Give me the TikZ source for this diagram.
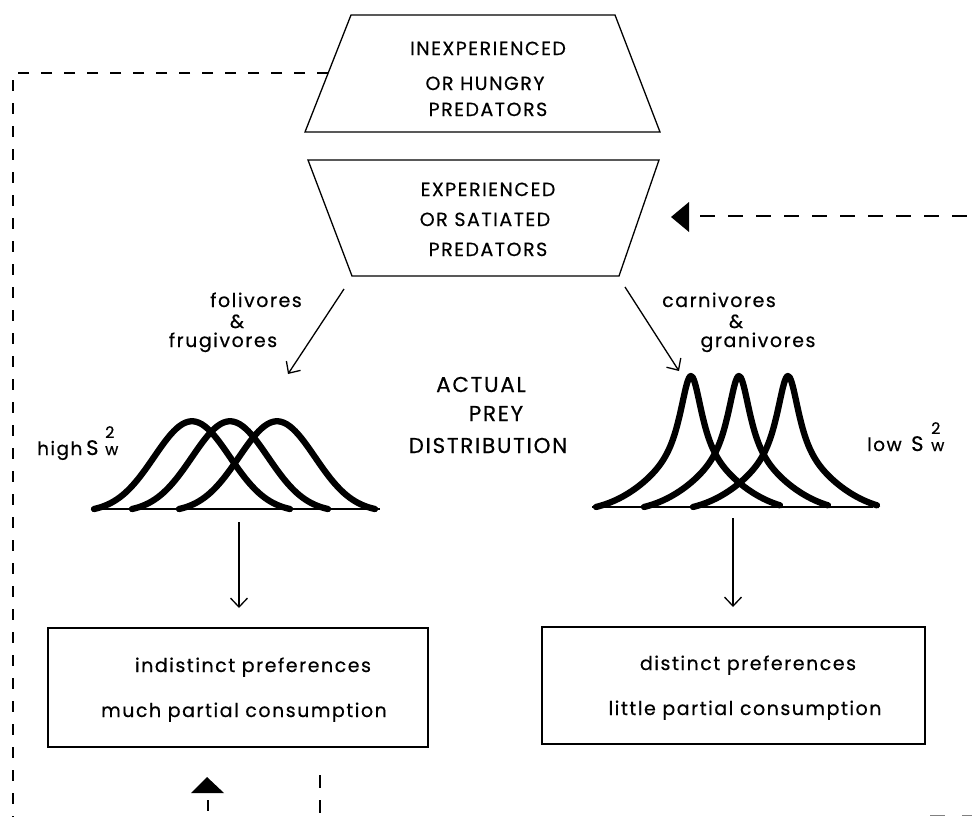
\documentclass[tikz,border=0pt]{standalone}
\usepackage{fontspec}
\setmainfont{Poppins}[LetterSpace=8,FakeBold=0.5]
\usetikzlibrary{arrows.meta}
\begin{document}
\begin{tikzpicture}[x=1pt,y=-1pt,
  thin/.style={line width=1.3pt},
  curve/.style={line width=6.3pt,line join=round,line cap=round},
  captext/.style={font=\fontsize{19}{21}\selectfont,anchor=base,inner sep=0pt},
  bigcap/.style={font=\fontsize{21.5}{23}\selectfont,anchor=base,inner sep=0pt},
  lowtext/.style={font=\fontsize{19}{21}\selectfont,anchor=base,inner sep=0pt},
  sidetext/.style={font=\fontsize{18.5}{20}\selectfont,anchor=base west,inner sep=0pt},
  bigS/.style={font=\fontsize{21}{22}\selectfont,anchor=base west,inner sep=0pt},
  smallsub/.style={font=\fontsize{16}{17}\selectfont,anchor=base west,inner sep=0pt},
  dashA/.style={line width=1.3pt,dash pattern=on 11pt off 12pt},
  dashB/.style={line width=1.3pt,dash pattern=on 15pt off 13pt},
  arr/.style={thin,-{Straight Barb[length=9pt,width=17pt,line width=1.3pt]}},
  boxnode/.style={draw,line width=1.5pt,inner sep=0pt}]
\useasboundingbox (0,0) rectangle (972,817);
\fill[white] (0,0) rectangle (972,817);
% trapezoids
\draw[thin] (351,15) -- (615,15) -- (660,132) -- (305,132) -- cycle;
\draw[thin] (308,160) -- (659,160) -- (619,276) -- (352,276) -- cycle;
\node[captext] (t1a) at (488,55) {INEXPERIENCED};
\node[captext] (t1b) at (485,90) {OR HUNGRY};
\node[captext] (t1c) at (488,116) {PREDATORS};
\node[captext] (t2a) at (488,196) {EXPERIENCED};
\node[captext] (t2b) at (485,226) {OR SATIATED};
\node[captext] (t2c) at (488,256) {PREDATORS};
% branch arrows
\coordinate (la0) at (344,289); \coordinate (la1) at (288,374);
\coordinate (ra0) at (625,287); \coordinate (ra1) at (679,371);
\draw[arr] (la0) -- (la1);
\draw[arr] (ra0) -- (ra1);
\node[lowtext] (fol) at (256,307) {folivores};
\node[lowtext] (fam) at (237,328) {\&};
\node[lowtext] (fru) at (223,347) {frugivores};
\node[lowtext] (car) at (719,307) {carnivores};
\node[lowtext] (cam) at (736,328) {\&};
\node[lowtext] (gra) at (758,347) {granivores};
% central label
\node[bigcap] (act) at (481,392) {ACTUAL};
\node[bigcap] (pre) at (496,421) {PREY};
\node[bigcap] (dis) at (488,453) {DISTRIBUTION};
% left distributions
\draw[thin] (95,509) -- (380,509);
\foreach \c in {192,230,277}
  \draw[curve] plot[domain=-98:98,samples=70,smooth] ({\c+\x},{509-91*(exp(-(\x*\x)/2888)-0.036)});
\node[sidetext] (high) at (37,455) {high};
\node[bigS] (hS) at (86,455) {S};
\node[smallsub] (h2) at (105,438) {2};
\node[smallsub] (hw) at (105,455) {w};
% right distributions
\draw[thin] (592,507) -- (873,507);
\foreach \c in {691,739,788}
  \draw[curve] plot[domain=-95:89,samples=100,smooth] ({\c+\x},{507-137.5*(0.7/(1+(\x/14)*(\x/14))+0.3*exp(-(\x*\x)/4050)-0.047)});
\node[sidetext] (low) at (867,451) {low};
\node[bigS] (lS) at (911,451) {S};
\node[smallsub] (l2) at (931,434) {2};
\node[smallsub] (lw) at (931,451) {w};
% down arrows
\coordinate (ld0) at (239,522); \coordinate (ld1) at (239,608);
\coordinate (rd0) at (733,518); \coordinate (rd1) at (733,607);
\draw[arr] (ld0) -- (ld1);
\draw[arr] (rd0) -- (rd1);
% boxes
\node[boxnode,minimum width=380pt,minimum height=119pt] (lbox) at (238,687.5) {};
\node[boxnode,minimum width=383pt,minimum height=117pt] (rbox) at (733.5,685.5) {};
\node[lowtext] (lb1) at (253,672) {indistinct preferences};
\node[lowtext] (lb2) at (244,717) {much partial consumption};
\node[lowtext] (rb1) at (748,670) {distinct preferences};
\node[lowtext] (rb2) at (745,715) {little partial consumption};
% feedback dashed lines
\coordinate (tl) at (328,73);
\coordinate (tlc) at (13,73);
\coordinate (bl) at (13,817);
\draw[dashA] (tl) -- (tlc) -- (bl);
\coordinate (rtip) at (671,217);
\fill (rtip) -- (689,202) -- (689,232) -- cycle;
\coordinate (rd) at (700,216); \coordinate (re) at (972,216);
\draw[dashB] (rd) -- (re);
\coordinate (btip) at (207,777);
\fill (btip) -- (224,793) -- (191,793) -- cycle;
\coordinate (bd0) at (208,800); \coordinate (bd1) at (208,817);
\draw[dashA] (bd0) -- (bd1);
\coordinate (bv0) at (320,775); \coordinate (bv1) at (320,817);
\draw[line width=1.3pt,dash pattern=on 13pt off 12pt] (bv0) -- (bv1);
\coordinate (br0) at (930,815.5); \coordinate (br1) at (972,815.5);
\draw[gray,line width=1.2pt,dash pattern=on 15pt off 17pt] (br0) -- (br1);
\end{tikzpicture}
\end{document}
